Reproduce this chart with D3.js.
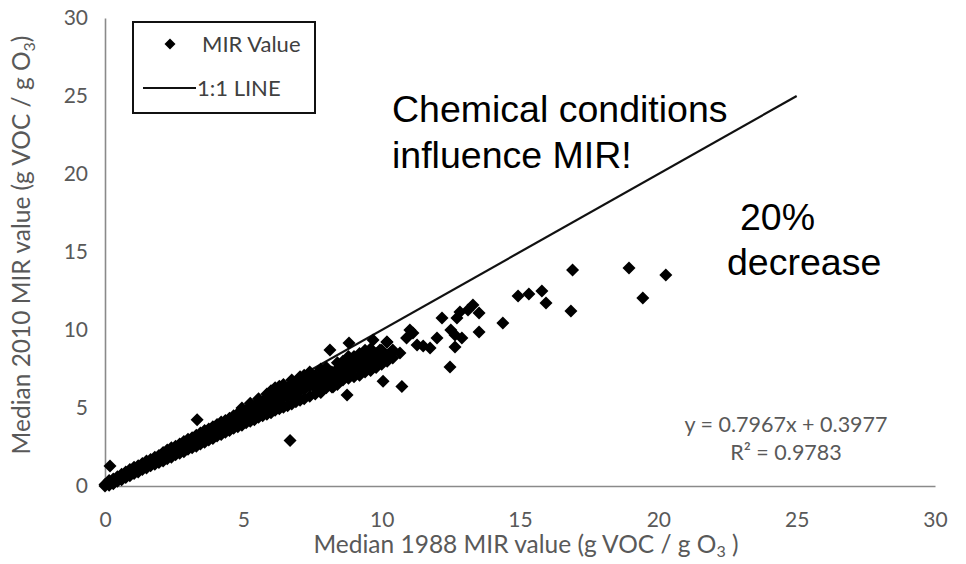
<!DOCTYPE html>
<html><head><meta charset="utf-8">
<script src="https://cdn.jsdelivr.net/npm/d3@7"></script>
<style>body{margin:0;background:#fff}svg{display:block}</style>
</head><body>
<script>
// ---------- data ----------
const xTicks = [0,5,10,15,20,25,30];
const yTicks = [0,5,10,15,20,25,30];
const oneToOne = [[0,0],[25,25]];
const equationText = ["y = 0.7967x + 0.3977", "R² = 0.9783"];
const legendLabels = ["MIR Value", "1:1 LINE"];
const annotations = ["Chemical conditions", "influence MIR!", "20%", "decrease"];

// dense band: [x, y...]
const bandRows = [
  [0.0, 0.0, 0.1],
  [0.15, 0.05, 0.2, 0.35],
  [0.3, 0.15, 0.3, 0.45],
  [0.45, 0.3, 0.45, 0.6],
  [0.6, 0.4, 0.6, 0.75],
  [0.75, 0.55, 0.7, 0.9],
  [0.9, 0.65, 0.85, 1.05],
  [1.05, 0.8, 1.0, 1.2],
  [1.2, 0.9, 1.1, 1.3],
  [1.35, 1.05, 1.25, 1.45],
  [1.5, 1.15, 1.35, 1.6],
  [1.65, 1.3, 1.5, 1.7],
  [1.8, 1.4, 1.6, 1.85],
  [1.95, 1.5, 1.75, 1.95],
  [2.1, 1.6, 1.9, 2.15],
  [2.25, 1.75, 2.0, 2.3],
  [2.4, 1.85, 2.15, 2.45],
  [2.55, 2.0, 2.3, 2.55],
  [2.7, 2.1, 2.4, 2.7],
  [2.85, 2.2, 2.55, 2.85],
  [3.0, 2.35, 2.65, 3.0],
  [3.15, 2.45, 2.8, 3.1],
  [3.3, 2.55, 2.95, 3.25],
  [3.45, 2.7, 3.05, 3.4],
  [3.6, 2.8, 3.2, 3.55],
  [3.75, 2.95, 3.3, 3.65],
  [3.9, 3.05, 3.45, 3.8],
  [4.05, 3.2, 3.6, 3.95],
  [4.2, 3.3, 3.7, 4.1],
  [4.35, 3.45, 3.85, 4.2],
  [4.5, 3.55, 3.95, 4.35],
  [4.65, 3.7, 4.1, 4.5],
  [4.8, 3.8, 4.25, 4.65],
  [4.95, 3.9, 4.35, 4.75, 5.0],
  [5.1, 4.05, 4.5, 4.85],
  [5.25, 4.15, 4.6, 5.0, 5.3],
  [5.4, 4.25, 4.75, 5.15],
  [5.55, 4.4, 4.85, 5.3, 5.6],
  [5.7, 4.5, 5.0, 5.4],
  [5.85, 4.6, 5.15, 5.6, 5.9],
  [6.0, 4.7, 5.25, 5.7, 6.1],
  [6.15, 4.85, 5.4, 5.85, 6.3],
  [6.3, 4.95, 5.5, 6.0, 6.4],
  [6.45, 5.05, 5.65, 6.1, 6.5],
  [6.6, 5.15, 5.75, 6.25],
  [6.75, 5.25, 5.9, 6.4, 6.8],
  [6.9, 5.4, 6.0, 6.55],
  [7.05, 5.5, 6.1, 6.7, 7.0],
  [7.2, 5.6, 6.2, 6.6, 7.1],
  [7.4, 5.75, 6.4, 6.8, 7.3],
  [7.6, 5.9, 6.3, 6.7, 7.1],
  [7.8, 6.0, 6.6, 7.0, 7.5],
  [8.0, 6.3, 6.7, 7.1, 7.6],
  [8.2, 6.35, 6.9, 7.3],
  [8.4, 6.5, 7.0, 7.5, 7.9],
  [8.6, 6.8, 7.2, 7.6, 8.0],
  [8.8, 6.9, 7.3, 7.8, 8.3],
  [9.0, 7.0, 7.5, 7.9, 8.3],
  [9.2, 7.1, 7.6, 8.1, 8.5],
  [9.4, 7.3, 7.8, 8.2, 8.7],
  [9.6, 7.4, 7.9, 8.4, 8.8],
  [9.8, 7.6, 8.0, 8.5],
  [10.0, 7.8, 8.2, 8.7],
  [10.2, 8.0, 8.4],
  [10.4, 8.2, 8.6]
];
// scattered points
const outlierX = [0.18, 3.33, 6.69, 8.13, 8.82, 9.69, 10.19, 8.75, 10.05, 10.73, 8.24,
  9.94, 10.12, 10.4, 10.19, 10.66, 10.9, 11.02, 11.13, 11.28, 11.5, 11.75, 12.0,
  12.18, 12.47, 12.5, 12.65, 12.65, 12.72, 12.83, 12.9, 13.12, 13.3, 13.52, 13.52,
  14.38, 14.93, 15.32, 15.79, 15.94, 16.84, 16.9, 18.94, 19.44, 20.27];
const outlierY = [1.28, 4.25, 2.92, 8.72, 9.17, 9.36, 9.23, 5.83, 6.72, 6.38, 6.35,
  8.72, 8.27, 8.72, 9.23, 8.53, 9.49, 10.0, 9.8, 9.04, 8.97, 8.85, 9.49,
  10.77, 7.63, 10.0, 9.68, 8.91, 10.77, 11.15, 9.49, 11.28, 11.6, 11.09, 9.87,
  10.45, 12.18, 12.31, 12.5, 11.73, 11.22, 13.85, 13.97, 12.05, 13.53];

// ---------- build ----------
const W = 966, H = 564;
const x = d3.scaleLinear().domain([0,30]).range([105,935]);
const y = d3.scaleLinear().domain([0,30]).range([486,18]);
const points = [];
bandRows.forEach(r => { for (let i = 1; i < r.length; i++) points.push([r[0], r[i]]); });
outlierX.forEach((v,i) => points.push([v, outlierY[i]]));

const svg = d3.select("body").append("svg").attr("width", W).attr("height", H);
const axisColor = "#8a8a8a", labelColor = "#595959";
const font = "Lato, 'Open Sans', sans-serif";

// axes
const xAxis = svg.append("g").attr("transform", `translate(0,${y(0)})`)
  .call(d3.axisBottom(x).tickValues(xTicks).tickSize(0).tickPadding(26));
const yAxis = svg.append("g").attr("transform", `translate(${x(0)},0)`)
  .call(d3.axisLeft(y).tickValues(yTicks).tickSize(0).tickPadding(17));
[xAxis, yAxis].forEach(g => {
  g.select(".domain").attr("stroke", axisColor).attr("stroke-width", 1.6);
  g.selectAll("text").attr("fill", labelColor).style("font-family", font).style("font-size", "21px");
});

// 1:1 line
svg.append("path").datum(oneToOne)
  .attr("d", d3.line().x(d => x(d[0])).y(d => y(d[1])))
  .attr("stroke", "#111").attr("stroke-width", 2.2).attr("fill", "none");

// diamonds
const r = 6.5;
const diamond = `M0,${-r}L${r},0L0,${r}L${-r},0Z`;
svg.append("g").selectAll("path").data(points).join("path")
  .attr("d", diamond)
  .attr("transform", d => `translate(${x(d[0])},${y(d[1])})`)
  .attr("fill", "#000");

// axis titles
const xt = svg.append("text").attr("x", 526).attr("y", 553).attr("text-anchor", "middle")
  .attr("fill", labelColor).style("font-family", font).style("font-size", "24.5px");
xt.append("tspan").text("Median 1988 MIR value (g VOC / g O");
xt.append("tspan").text("3").attr("dy", 4).style("font-size", "16px");
xt.append("tspan").text(" )").attr("dy", -4);

const yt = svg.append("text").attr("transform", "translate(30,245) rotate(-90)").attr("text-anchor", "middle")
  .attr("fill", labelColor).style("font-family", font).style("font-size", "24.5px");
yt.append("tspan").text("Median 2010 MIR value (g VOC / g O");
yt.append("tspan").text("3").attr("dy", 5).style("font-size", "16px");
yt.append("tspan").text(")").attr("dy", -5);

// equation
equationText.forEach((t,i) => {
  svg.append("text").attr("x", 786).attr("y", 432 + i*28).attr("text-anchor", "middle")
    .attr("fill", labelColor).style("font-family", font).style("font-size", "21.5px").text(t);
});

// legend
svg.append("rect").attr("x", 133).attr("y", 22).attr("width", 182).attr("height", 91)
  .attr("fill", "#fff").attr("stroke", "#111").attr("stroke-width", 2);
svg.append("path").attr("d", `M0,-5.5L5.5,0L0,5.5L-5.5,0Z`).attr("transform", "translate(170,44)").attr("fill", "#000");
svg.append("line").attr("x1", 143).attr("x2", 196).attr("y1", 88).attr("y2", 88)
  .attr("stroke", "#111").attr("stroke-width", 2);
svg.append("text").attr("x", 202).attr("y", 52).attr("fill", "#404040")
  .style("font-family", font).style("font-size", "22px").text(legendLabels[0]);
svg.append("text").attr("x", 197).attr("y", 96).attr("fill", "#404040")
  .style("font-family", font).style("font-size", "22px").text(legendLabels[1]);

// annotations
const annFont = "'Liberation Sans', Arial, sans-serif";
const annPos = [[392,122],[392,168],[740,230],[727,275]];
annotations.forEach((t,i) => {
  svg.append("text").attr("x", annPos[i][0]).attr("y", annPos[i][1]).attr("fill", "#000")
    .style("font-family", annFont).style("font-size", "37.5px").text(t);
});
</script>
</body></html>
